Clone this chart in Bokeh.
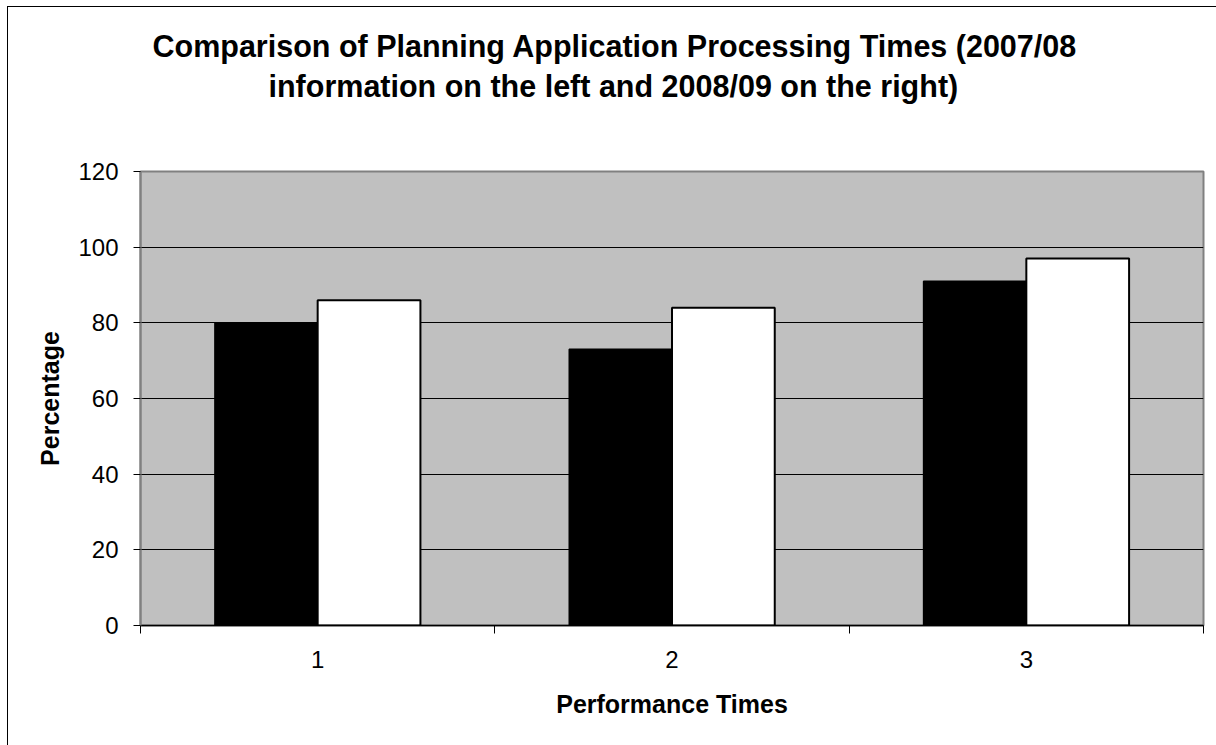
from bokeh.plotting import figure
from bokeh.models import Range1d, FixedTicker, Title, ColumnDataSource
from bokeh.transform import dodge
from bokeh.embed import file_html
from bokeh.resources import INLINE

categories = [1, 2, 3]
tick_labels = {1: "1", 2: "2", 3: "3"}
values_2007_08 = [80, 73, 91]
values_2008_09 = [86, 84, 97]
y_ticks = [0, 20, 40, 60, 80, 100, 120]
title_lines = ["Comparison of Planning Application Processing Times (2007/08",
               "information on the left and 2008/09 on the right)"]

FONT = "Liberation Sans"

src = ColumnDataSource(dict(x=categories, a=values_2007_08, b=values_2008_09))

p = figure(width=1209, height=739, output_backend="svg", toolbar_location=None,
           x_range=Range1d(0.5, 3.5), y_range=Range1d(0, 120),
           min_border_left=132, min_border_right=14, min_border_top=164,
           min_border_bottom=121)
p.margin = (6, 0, 0, 7)
p.styles = {"border-left": "1px solid black", "border-top": "1px solid black"}

p.background_fill_color = "#C0C0C0"
p.border_fill_color = "white"
p.outline_line_color = "#808080"
p.outline_line_width = 2

p.vbar(x=dodge("x", -0.145), top="a", width=0.29, source=src,
       fill_color="black", line_color="black", line_width=1.5)
p.vbar(x=dodge("x", 0.145), top="b", width=0.29, source=src,
       fill_color="white", line_color="black", line_width=2)

# axes
p.xaxis.ticker = FixedTicker(ticks=categories, minor_ticks=[0.5, 1.5, 2.5, 3.5])
p.xaxis.major_label_overrides = tick_labels
p.xaxis.major_tick_out = 0
p.xaxis.major_tick_in = 0
p.xaxis.minor_tick_out = 8
p.xaxis.minor_tick_in = 0
p.xaxis.minor_tick_line_color = "black"
p.xaxis.axis_line_color = "black"
p.xaxis.axis_line_width = 1.5
p.xaxis.major_label_standoff = 17
p.xaxis.axis_label = "Performance Times"
p.xaxis.axis_label_standoff = 19

p.yaxis.ticker = FixedTicker(ticks=y_ticks)
p.yaxis.major_tick_out = 7
p.yaxis.major_tick_in = 0
p.yaxis.minor_tick_line_color = None
p.yaxis.axis_line_color = "#808080"
p.yaxis.axis_line_width = 2
p.yaxis.major_tick_line_color = "black"
p.yaxis.major_label_standoff = 15
p.yaxis.axis_label = "Percentage"
p.yaxis.axis_label_standoff = 11

for ax in (p.xaxis, p.yaxis):
    ax.major_label_text_font = FONT
    ax.major_label_text_font_size = "24px"
    ax.major_label_text_color = "black"
    ax.axis_label_text_font = FONT
    ax.axis_label_text_font_size = "25px"
    ax.axis_label_text_font_style = "bold"
    ax.axis_label_text_color = "black"

p.xgrid.grid_line_color = None
p.ygrid.ticker = FixedTicker(ticks=[20, 40, 60, 80, 100])
p.ygrid.grid_line_color = "black"
p.ygrid.grid_line_width = 1

# title: a thin spacer panel next to the frame, then the two title lines
spacer = Title(text=" ", text_font=FONT, text_font_size="1px", standoff=66)
t2 = Title(text=title_lines[1], align="left", offset=128, standoff=0,
           text_font=FONT, text_font_size="30.5px", text_font_style="bold",
           text_color="black")
t1 = Title(text=title_lines[0], align="left", offset=12, standoff=7,
           text_font=FONT, text_font_size="30.5px", text_font_style="bold",
           text_color="black")
p.add_layout(spacer, "above")
p.add_layout(t2, "above")
p.add_layout(t1, "above")

open("out.html", "w").write(file_html(p, INLINE))
